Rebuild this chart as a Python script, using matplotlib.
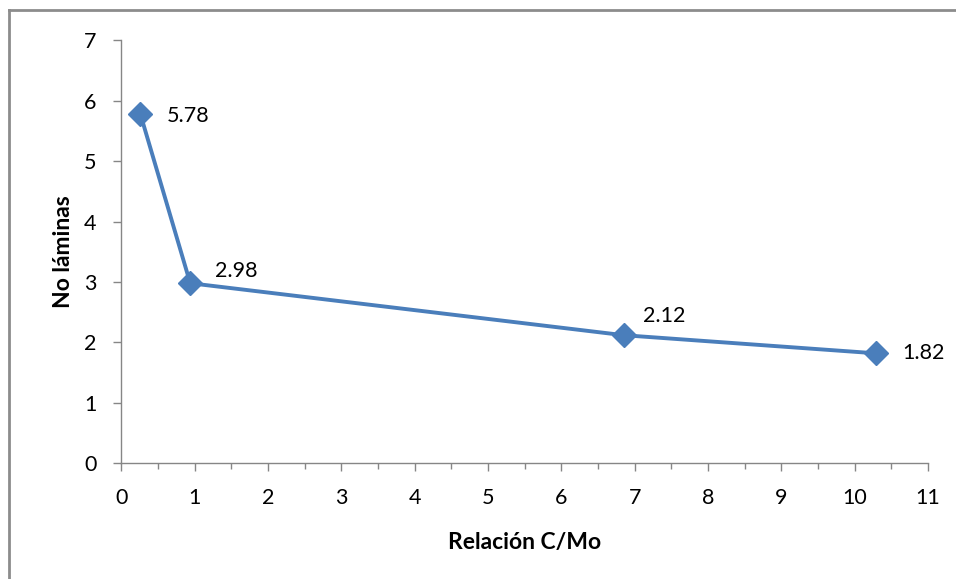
import matplotlib
matplotlib.use("Agg")
import matplotlib.pyplot as plt
from matplotlib.lines import Line2D
from matplotlib.ticker import MultipleLocator

# Data
relacion = [0.26, 0.94, 6.85, 10.29]
laminas = [5.78, 2.98, 2.12, 1.82]
etiquetas = ["5.78", "2.98", "2.12", "1.82"]
x_ticks = list(range(0, 12))
y_ticks = list(range(0, 8))

plt.rcParams["font.family"] = ["Lato", "DejaVu Sans"]

W, H = 956, 579
fig = plt.figure(figsize=(W / 100, H / 100), dpi=100)
fig.patch.set_facecolor("white")

# Chart-area frame (top and left edges visible)
frame_col = "#8c8c8c"
fig.add_artist(Line2D([9 / W, 1.0], [1 - 10 / H, 1 - 10 / H], color=frame_col, lw=2.0,
                      transform=fig.transFigure))
fig.add_artist(Line2D([9 / W, 9 / W], [0.0, 1 - 10 / H], color=frame_col, lw=2.0,
                      transform=fig.transFigure))

x0, x1 = 121.3, 928.0
y0, y1 = 463.3, 40.3
ax = fig.add_axes([x0 / W, 1 - y0 / H, (x1 - x0) / W, (y0 - y1) / H])

blue = "#4a7ebb"
ax.plot(relacion, laminas, color=blue, lw=2.8, marker="D", markersize=12.5,
        markerfacecolor=blue, markeredgecolor=blue, solid_joinstyle="round", clip_on=False)

offsets = [(19, -1.5), (18, 9), (14, 14), (19, 0)]
for xv, yv, txt, off in zip(relacion, laminas, etiquetas, offsets):
    ax.annotate(txt, (xv, yv), xytext=off, textcoords="offset points",
                ha="left", va="center", fontsize=15.5, color="black")

ax.set_xlim(0, 11)
ax.set_ylim(0, 7)
ax.set_xticks(x_ticks)
ax.set_yticks(y_ticks)
ax.xaxis.set_minor_locator(MultipleLocator(0.5))

axis_col = "#868686"
for s in ("top", "right"):
    ax.spines[s].set_visible(False)
for s in ("left", "bottom"):
    ax.spines[s].set_color(axis_col)
    ax.spines[s].set_linewidth(1.0)

ax.tick_params(axis="both", which="major", direction="out", length=6, width=1.0,
               color=axis_col, labelsize=15.5, labelcolor="black")
ax.tick_params(axis="x", which="major", pad=12)
ax.tick_params(axis="y", which="major", pad=12)
ax.tick_params(axis="x", which="minor", direction="out", length=4, width=1.0, color=axis_col)
ax.tick_params(axis="y", which="minor", length=0)

ax.set_xlabel("Relación C/Mo", fontsize=16.5, fontweight="bold", labelpad=17)
ax.set_ylabel("No láminas", fontsize=16.5, fontweight="bold", labelpad=7)

fig.savefig("out.png", dpi=100, facecolor="white")
